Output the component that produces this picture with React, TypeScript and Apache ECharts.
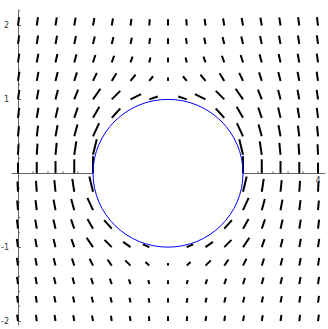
import React, { useEffect, useRef } from "react";
import * as echarts from "echarts";

// Sample grid of the vector field
const gridX = [0, 0.25, 0.5, 0.75, 1, 1.25, 1.5, 1.75, 2, 2.25, 2.5, 2.75, 3, 3.25, 3.5, 3.75, 4];
const gridY = [2, 1.75, 1.5, 1.25, 1, 0.75, 0.5, 0.25, 0, -0.25, -0.5, -0.75, -1, -1.25, -1.5, -1.75, -2];

const n = null;
// horizontal component of each arrow (rows follow gridY, columns follow gridX)
const fieldU = [
  [0.13, 0.14, 0.15, 0.16, 0.16, 0.14, 0.11, 0.06, 0, -0.06, -0.11, -0.14, -0.16, -0.16, -0.15, -0.14, -0.13],
  [0.14, 0.16, 0.19, 0.2, 0.21, 0.2, 0.16, 0.09, 0, -0.09, -0.16, -0.2, -0.21, -0.2, -0.19, -0.16, -0.14],
  [0.15, 0.19, 0.22, 0.26, 0.28, 0.28, 0.24, 0.14, 0, -0.14, -0.24, -0.28, -0.28, -0.26, -0.22, -0.19, -0.15],
  [0.16, 0.2, 0.26, 0.32, 0.45, 0.55, 0.6, 0.45, 0, -0.45, -0.6, -0.55, -0.45, -0.32, -0.26, -0.2, -0.16],
  [0.16, 0.21, 0.28, 0.45, 0.87, 1.0, 1.25, 1.0, 0, -1.0, -1.25, -1.0, -0.87, -0.45, -0.28, -0.21, -0.16],
  [0.14, 0.2, 0.28, 0.42, 0.75, 1.0, n, n, n, n, n, -1.0, -0.75, -0.42, -0.28, -0.2, -0.14],
  [0.11, 0.16, 0.24, 0.38, 0.72, n, n, n, n, n, n, n, -0.72, -0.38, -0.24, -0.16, -0.11],
  [0.06, 0.09, 0.14, 0.24, 0.44, n, n, n, n, n, n, n, -0.44, -0.24, -0.14, -0.09, -0.06],
  [0, 0, 0, 0, 0, n, n, n, n, n, n, n, 0, 0, 0, 0, 0],
  [-0.06, -0.09, -0.14, -0.23, -0.43, n, n, n, n, n, n, n, 0.43, 0.23, 0.14, 0.09, 0.06],
  [-0.1, -0.15, -0.23, -0.36, -0.66, n, n, n, n, n, n, n, 0.66, 0.36, 0.23, 0.15, 0.1],
  [-0.13, -0.18, -0.25, -0.38, -0.65, -0.9, n, n, n, n, n, 0.9, 0.65, 0.38, 0.25, 0.18, 0.13],
  [-0.14, -0.18, -0.24, -0.33, -0.75, -0.85, -0.87, -0.75, 0, 0.75, 0.87, 0.85, 0.75, 0.33, 0.24, 0.18, 0.14],
  [-0.13, -0.17, -0.22, -0.27, -0.4, -0.5, -0.62, -0.45, 0, 0.45, 0.62, 0.5, 0.4, 0.27, 0.22, 0.17, 0.13],
  [-0.12, -0.15, -0.18, -0.21, -0.23, -0.23, -0.19, -0.11, 0, 0.11, 0.19, 0.23, 0.23, 0.21, 0.18, 0.15, 0.12],
  [-0.11, -0.12, -0.15, -0.15, -0.16, -0.15, -0.12, -0.07, 0, 0.07, 0.12, 0.15, 0.16, 0.15, 0.15, 0.12, 0.11],
  [-0.1, -0.1, -0.11, -0.12, -0.12, -0.1, -0.08, -0.04, 0, 0.04, 0.08, 0.1, 0.12, 0.12, 0.11, 0.1, 0.1],
];
// vertical component of each arrow
const fieldV = [
  [1.0, 0.98, 0.96, 0.92, 0.88, 0.84, 0.79, 0.76, 0.75, 0.76, 0.79, 0.84, 0.88, 0.92, 0.96, 0.98, 1.0],
  [1.02, 1.0, 0.97, 0.93, 0.88, 0.81, 0.74, 0.69, 0.67, 0.69, 0.74, 0.81, 0.88, 0.93, 0.97, 1.0, 1.02],
  [1.05, 1.03, 1.0, 0.95, 0.88, 0.79, 0.68, 0.59, 0.56, 0.59, 0.68, 0.79, 0.88, 0.95, 1.0, 1.03, 1.05],
  [1.08, 1.07, 1.05, 1.0, 0.95, 0.9, 0.75, 0.55, 0.4, 0.55, 0.75, 0.9, 0.95, 1.0, 1.05, 1.07, 1.08],
  [1.12, 1.13, 1.12, 1.15, 1.25, 1.0, 0.62, 0.34, 0, 0.34, 0.62, 1.0, 1.25, 1.15, 1.12, 1.13, 1.12],
  [1.17, 1.19, 1.21, 1.22, 1.3, 1.1, n, n, n, n, n, 1.1, 1.3, 1.22, 1.21, 1.19, 1.17],
  [1.21, 1.26, 1.32, 1.4, 1.55, n, n, n, n, n, n, n, 1.55, 1.4, 1.32, 1.26, 1.21],
  [1.24, 1.31, 1.41, 1.57, 1.83, n, n, n, n, n, n, n, 1.83, 1.57, 1.41, 1.31, 1.24],
  [1.25, 1.33, 1.44, 1.64, 2.0, n, n, n, n, n, n, n, 2.0, 1.64, 1.44, 1.33, 1.25],
  [1.2, 1.27, 1.37, 1.52, 1.78, n, n, n, n, n, n, n, 1.78, 1.52, 1.37, 1.27, 1.2],
  [1.14, 1.18, 1.24, 1.32, 1.45, n, n, n, n, n, n, n, 1.45, 1.32, 1.24, 1.18, 1.14],
  [1.05, 1.07, 1.09, 1.1, 1.15, 1.0, n, n, n, n, n, 1.0, 1.15, 1.1, 1.09, 1.07, 1.05],
  [0.97, 0.98, 0.97, 0.95, 1.1, 0.85, 0.62, 0.33, 0, 0.33, 0.62, 0.85, 1.1, 0.95, 0.97, 0.98, 0.97],
  [0.91, 0.9, 0.88, 0.84, 0.8, 0.72, 0.62, 0.42, 0.3, 0.42, 0.62, 0.72, 0.8, 0.84, 0.88, 0.9, 0.91],
  [0.85, 0.83, 0.81, 0.77, 0.71, 0.64, 0.55, 0.48, 0.45, 0.48, 0.55, 0.64, 0.71, 0.77, 0.81, 0.83, 0.85],
  [0.79, 0.77, 0.75, 0.72, 0.68, 0.62, 0.57, 0.53, 0.52, 0.53, 0.57, 0.62, 0.68, 0.72, 0.75, 0.77, 0.79],
  [0.74, 0.73, 0.71, 0.68, 0.65, 0.62, 0.58, 0.56, 0.56, 0.56, 0.58, 0.62, 0.65, 0.68, 0.71, 0.73, 0.74],
];

// circle: center and radius
const circleCenter = [2, 0];
const circleRadius = 1;

// tick labels
const xTickLabels = [4];
const yTickLabels = [-2, -1, 1, 2];
const xMinorTicks = [0.2, 0.4, 0.6, 0.8, 1, 1.2, 1.4, 1.6, 1.8, 2, 2.2, 2.4, 2.6, 2.8, 3, 3.2, 3.4, 3.6, 3.8];
const yMinorTicks = [-1.8, -1.6, -1.4, -1.2, -0.8, -0.6, -0.4, -0.2, 0.2, 0.4, 0.6, 0.8, 1.2, 1.4, 1.6, 1.8, 2.2];

const ARROW_SCALE = 8.5; // px per field unit

export default function App() {
  const ref = useRef<HTMLDivElement>(null);
  useEffect(() => {
    if (!ref.current) return;
    const chart = echarts.init(ref.current, null, { renderer: "svg" });

    const arrows: number[][] = [];
    gridY.forEach((y, i) => {
      gridX.forEach((x, j) => {
        const u = fieldU[i][j];
        const v = fieldV[i][j];
        if (u == null || v == null) return;
        if (u === 0 && v === 0) return;
        arrows.push([x, y, u, v]);
      });
    });

    const axisColor = "#666";

    chart.setOption({
      animation: false,
      backgroundColor: "#ffffff",
      grid: {
        left: 12,
        right: 3,
        top: 10,
        bottom: 4,
        containLabel: false,
        outerBoundsMode: "none",
      },
      xAxis: {
        type: "value",
        min: -0.08,
        max: 4.093,
        splitLine: { show: false },
        axisLine: { onZero: true, lineStyle: { color: axisColor, width: 1 } },
        axisTick: { inside: true, length: 3, customValues: xTickLabels, lineStyle: { color: axisColor } },
        axisLabel: { show: false },
      },
      yAxis: {
        type: "value",
        min: -2.054,
        max: 2.21,
        splitLine: { show: false },
        axisLine: { onZero: true, lineStyle: { color: axisColor, width: 1 } },
        axisTick: { inside: true, length: 3, customValues: yTickLabels, lineStyle: { color: axisColor } },
        axisLabel: {
          customValues: yTickLabels,
          fontSize: 8,
          fontFamily: "DejaVu Sans",
          color: "#333",
          margin: 3,
        },
      },
      series: [
        {
          type: "custom",
          name: "xminor",
          data: xMinorTicks.map((v) => [v, 0]),
          encode: { x: 0, y: 1 },
          z: 1,
          renderItem: (params: any, api: any) => {
            const p = api.coord([api.value(0), 0]);
            return {
              type: "line",
              shape: { x1: p[0], y1: p[1], x2: p[0], y2: p[1] - 2 },
              style: { stroke: axisColor, lineWidth: 1 },
            };
          },
        },
        {
          type: "custom",
          name: "yminor",
          data: yMinorTicks.map((v) => [0, v]),
          encode: { x: 0, y: 1 },
          z: 1,
          renderItem: (params: any, api: any) => {
            const p = api.coord([0, api.value(1)]);
            return {
              type: "line",
              shape: { x1: p[0], y1: p[1], x2: p[0] + 2, y2: p[1] },
              style: { stroke: axisColor, lineWidth: 1 },
            };
          },
        },
        {
          type: "custom",
          name: "xlabels",
          data: xTickLabels.map((v) => [v, 0]),
          encode: { x: 0, y: 1 },
          z: 1,
          renderItem: (params: any, api: any) => {
            const p = api.coord([api.value(0), 0]);
            return {
              type: "text",
              x: p[0],
              y: p[1] + 3,
              style: {
                text: String(api.value(0)),
                fontSize: 8,
                fontFamily: "DejaVu Sans",
                fill: "#333",
                align: "center",
                verticalAlign: "top",
              },
            };
          },
        },
        {
          type: "custom",
          name: "circleFill",
          data: [[circleCenter[0], circleCenter[1], circleRadius]],
          encode: { x: 0, y: 1 },
          z: 2,
          renderItem: (params: any, api: any) => {
            const c = api.coord([api.value(0), api.value(1)]);
            const s = api.size([api.value(2), api.value(2)]);
            return {
              type: "ellipse",
              shape: { cx: c[0], cy: c[1], rx: s[0], ry: s[1] },
              style: { stroke: "none", fill: "#ffffff" },
            };
          },
        },
        {
          type: "custom",
          name: "field",
          data: arrows,
          encode: { x: 0, y: 1 },
          z: 3,
          renderItem: (params: any, api: any) => {
            const p = api.coord([api.value(0), api.value(1)]);
            const u = api.value(2);
            const v = api.value(3);
            return {
              type: "line",
              shape: {
                x1: p[0],
                y1: p[1],
                x2: p[0] + u * ARROW_SCALE,
                y2: p[1] - v * ARROW_SCALE,
              },
              style: { stroke: "#000", lineWidth: 2 },
            };
          },
        },
        {
          type: "custom",
          name: "circleEdge",
          data: [[circleCenter[0], circleCenter[1], circleRadius]],
          encode: { x: 0, y: 1 },
          z: 4,
          renderItem: (params: any, api: any) => {
            const c = api.coord([api.value(0), api.value(1)]);
            const s = api.size([api.value(2), api.value(2)]);
            return {
              type: "ellipse",
              shape: { cx: c[0], cy: c[1], rx: s[0], ry: s[1] },
              style: { stroke: "#0000ff", fill: "none", lineWidth: 1 },
            };
          },
        },
      ],
    });
    return () => chart.dispose();
  }, []);
  return (
    <div
      ref={ref}
      style={{ position: "absolute", left: 0, top: 0, width: 328, height: 329, background: "#fff" }}
    />
  );
}
